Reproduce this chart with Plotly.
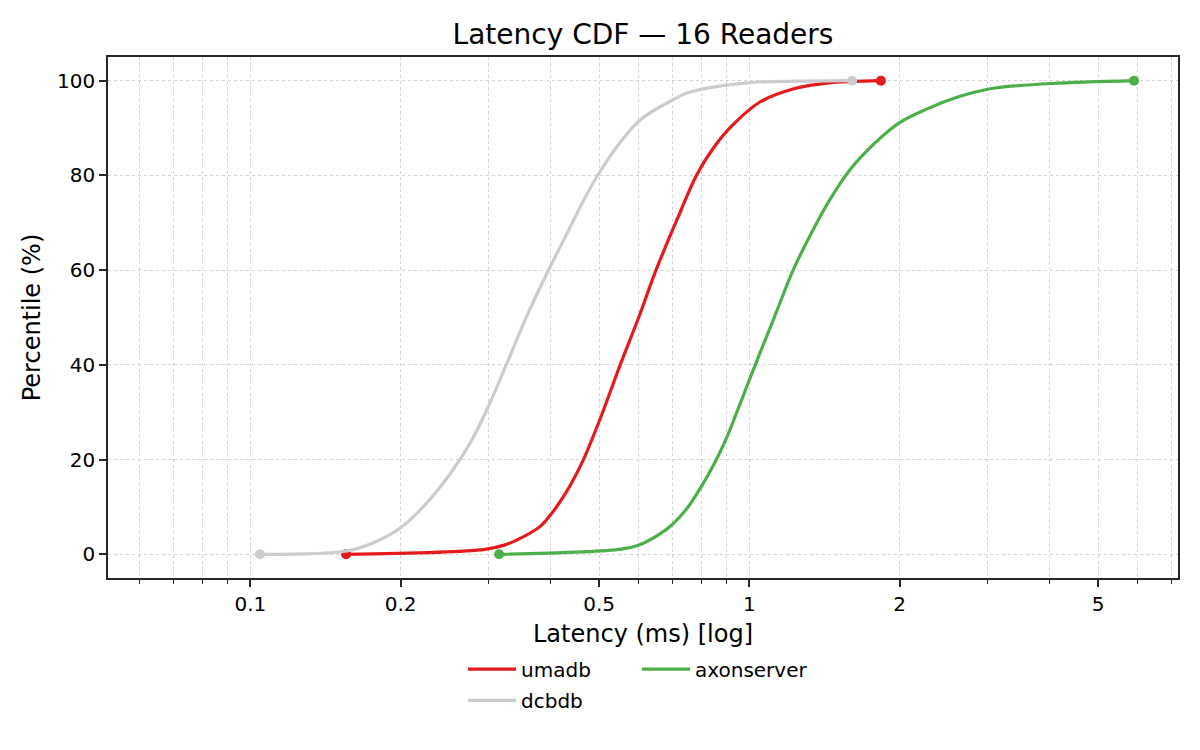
import plotly.graph_objects as go

# ---- data ----
umadb_x = [0.1555, 0.295, 0.324, 0.345, 0.381, 0.400, 0.417, 0.440, 0.465, 0.504,
           0.551, 0.600, 0.650, 0.715, 0.786, 0.850, 0.919, 1.05, 1.228, 1.43, 1.835]
umadb_y = [0, 1.05, 2.0, 3.2, 5.9, 8.4, 11.0, 15.0, 20, 29.0,
           40, 50, 60, 70.5, 80.3, 86.0, 90.3, 95.5, 98.3, 99.5, 100]

dcbdb_x = [0.1045, 0.156, 0.177, 0.200, 0.226, 0.255, 0.276, 0.299, 0.326, 0.358,
           0.398, 0.430, 0.458, 0.494, 0.518, 0.542, 0.604, 0.704, 0.760, 1.003,
           1.263, 1.607]
dcbdb_y = [0, 0.7, 2.5, 5.6, 10.9, 17.9, 23.6, 30.9, 40.1, 50.3,
           60.5, 67.5, 73.3, 79.6, 83.0, 86.0, 91.7, 96.0, 97.6, 99.6,
           99.9, 100]

axon_x = [0.315, 0.555, 0.603, 0.662, 0.699, 0.749, 0.800, 0.853, 0.898, 0.943,
          0.998, 1.042, 1.117, 1.225, 1.343, 1.450, 1.591, 1.771, 1.996,
          2.265, 2.642, 3.00, 3.177, 4.03, 5.9]
axon_y = [0, 1.1, 2.0, 4.3, 6.2, 9.6, 14.2, 19.4, 24.3, 29.9,
          36.6, 41.6, 49.5, 60.1, 68.6, 74.9, 81.2, 86.5, 91.1,
          94.0, 96.7, 98.2, 98.6, 99.4, 100]

series = [
    ("umadb", umadb_x, umadb_y, "#e41a1c", "legend"),
    ("dcbdb", dcbdb_x, dcbdb_y, "#cccccc", "legend2"),
    ("axonserver", axon_x, axon_y, "#4daf4a", "legend3"),
]

x_tickvals = [0.1, 0.2, 0.5, 1, 2, 5]
x_ticktext = ["0.1", "0.2", "0.5", "1", "2", "5"]
x_minorvals = [0.06, 0.07, 0.08, 0.09, 0.3, 0.4, 0.6, 0.7, 0.8, 0.9, 3, 4, 6, 7]
y_tickvals = [0, 20, 40, 60, 80, 100]

FONT = "DejaVu Sans"
AXIS_COLOR = "#262626"
GRID_COLOR = "#d2d2d2"

fig = go.Figure()
for name, xs, ys, color, leg in series:
    fig.add_trace(go.Scatter(
        x=xs, y=ys, mode="lines", name=name,
        line=dict(color=color, width=3.2, shape="spline", smoothing=1.0),
        legend=leg,
    ))
    fig.add_trace(go.Scatter(
        x=[xs[0], xs[-1]], y=[ys[0], ys[-1]], mode="markers",
        marker=dict(color=color, size=10), showlegend=False, hoverinfo="skip",
    ))

legend_common = dict(orientation="h", xanchor="left", yanchor="middle",
                     font=dict(size=20, family=FONT), itemwidth=48,
                     bgcolor="rgba(0,0,0,0)")

fig.update_layout(
    width=1200, height=750,
    paper_bgcolor="white", plot_bgcolor="white",
    margin=dict(l=100, r=30, t=49, b=180),
    font=dict(family=FONT, color="black", size=20),
    title=dict(text="Latency CDF — 16 Readers", x=0.5, xref="paper", xanchor="center",
               y=1 - 26 / 750, yanchor="middle", yref="container",
               font=dict(size=28, family=FONT, color="black")),
    showlegend=True,
    legend=dict(x=0.3318, y=-0.175, **legend_common),
    legend2=dict(x=0.3318, y=-0.235, **legend_common),
    legend3=dict(x=0.4944, y=-0.175, **legend_common),
)

fig.update_xaxes(
    type="log", range=[-1.2853, 0.859],
    tickmode="array", tickvals=x_tickvals, ticktext=x_ticktext,
    ticks="outside", ticklen=7, tickwidth=1.6, tickcolor=AXIS_COLOR,
    tickfont=dict(size=20, family=FONT, color="black"),
    showline=True, linecolor=AXIS_COLOR, linewidth=1.6, mirror=True,
    showgrid=True, gridcolor=GRID_COLOR, griddash="dot", gridwidth=1,
    minor=dict(tickmode="array", tickvals=x_minorvals, ticks="outside", ticklen=4,
               tickwidth=1.2, tickcolor=AXIS_COLOR, showgrid=True,
               gridcolor=GRID_COLOR, griddash="dot", gridwidth=1),
    zeroline=False,
    title=dict(text="Latency (ms) [log]", standoff=10,
               font=dict(size=24, family=FONT, color="black")),
)
fig.update_yaxes(
    range=[-5, 105], tickmode="array", tickvals=y_tickvals,
    ticks="outside", ticklen=7, tickwidth=1.6, tickcolor=AXIS_COLOR,
    tickfont=dict(size=20, family=FONT, color="black"),
    showline=True, linecolor=AXIS_COLOR, linewidth=1.6, mirror=True,
    showgrid=True, gridcolor=GRID_COLOR, griddash="dot", gridwidth=1,
    zeroline=False,
    title=dict(text="Percentile (%)", standoff=10,
               font=dict(size=24, family=FONT, color="black")),
)

fig.write_html("out.html")
